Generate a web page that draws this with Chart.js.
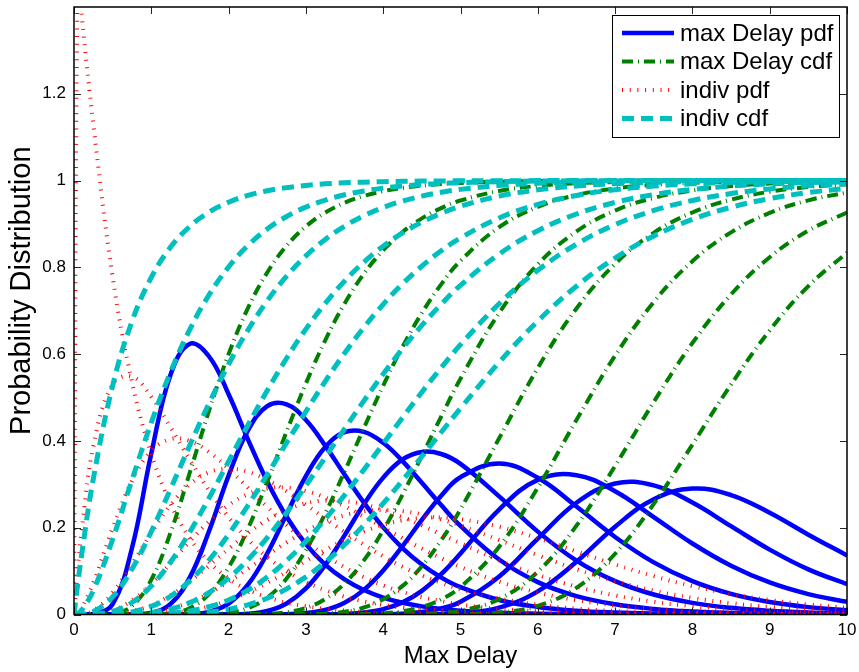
<!DOCTYPE html>
<html>
<head>
<meta charset="utf-8">
<script src="https://cdn.jsdelivr.net/npm/chart.js@4.4.1/dist/chart.umd.min.js"></script>
<style>
html,body{margin:0;padding:0;background:#ffffff;}
#wrap{width:859px;height:672px;position:relative;}
</style>
</head>
<body>
<div id="wrap"><canvas id="c" width="859" height="672"></canvas></div>
<script>
// ---------- data ----------
const xGrid = [0,0.05,0.1,0.25,0.5,0.75,1,1.25,1.5,1.75,2,2.25,2.5,2.75,3,3.25,3.5,3.75,4,4.25,4.5,4.75,5,5.5,6,6.5,7,7.5,8,8.5,9,9.5,10];

const xTicks = [0,1,2,3,4,5,6,7,8,9,10];
const yTicks = [0,0.2,0.4,0.6,0.8,1,1.2];
const xTitle = 'Max Delay';
const yTitle = 'Probability Distribution';
const legendLabels = ['max Delay pdf','max Delay cdf','indiv pdf','indiv cdf'];

// max Delay pdf (blue)
const maxPdf1 = [0,0,0,0,0.0241,0.1532,0.371,0.553,0.624,0.594,0.5075,0.4037,0.3064,0.2253,0.1622,0.1150,0.0808,0.0563,0.0391,0.0271,0.0187,0.0129,0.0089,0.0042,0.0020,0.0009,0.0004,0.0002,0.0001,0,0,0,0];
const maxPdf2 = [0,0,0,0,0,0.0002,0.0034,0.0243,0.0861,0.1937,0.3201,0.4242,0.4802,0.4842,0.4482,0.3891,0.3224,0.2577,0.2008,0.1532,0.1151,0.0854,0.0629,0.0333,0.0174,0.0089,0.0046,0.0023,0.0012,0.0006,0.0003,0.0001,0.0001];
const maxPdf3 = [0,0,0,0,0,0,0,0.0001,0.0009,0.0062,0.0250,0.0686,0.1407,0.2310,0.3191,0.3858,0.4202,0.4210,0.3957,0.3536,0.3034,0.2521,0.2042,0.1267,0.0746,0.0424,0.0236,0.0129,0.0069,0.0037,0.0020,0.0011,0.0005];
const maxPdf4 = [0,0,0,0,0,0,0,0,0,0,0.0003,0.0019,0.0083,0.0255,0.0600,0.1140,0.1824,0.2540,0.3154,0.3573,0.3746,0.3699,0.3471,0.2721,0.1910,0.1243,0.0769,0.0460,0.0268,0.0153,0.0086,0.0048,0.0027];
const maxPdf5 = [0,0,0,0,0,0,0,0,0,0,0,0,0.0001,0.0007,0.0032,0.0104,0.0269,0.0567,0.1014,0.1577,0.2180,0.2737,0.3164,0.3477,0.3150,0.2488,0.1787,0.1201,0.0770,0.0477,0.0288,0.0170,0.0099];
const maxPdf6 = [0,0,0,0,0,0,0,0,0,0,0,0,0,0,0,0.0003,0.0013,0.0044,0.0123,0.0280,0.0546,0.0928,0.1406,0.2418,0.3102,0.3211,0.2842,0.2246,0.1636,0.1124,0.0738,0.0469,0.0292];
const maxPdf7 = [0,0,0,0,0,0,0,0,0,0,0,0,0,0,0,0,0,0.0001,0.0006,0.0020,0.0058,0.0141,0.0294,0.0876,0.1749,0.2576,0.3020,0.2976,0.2581,0.2035,0.1495,0.1039,0.0698];
const maxPdf8 = [0,0,0,0,0,0,0,0,0,0,0,0,0,0,0,0,0,0,0,0.0001,0.0003,0.0009,0.0028,0.0158,0.0534,0.1214,0.2024,0.2657,0.2903,0.2753,0.2345,0.1840,0.1361];

// max Delay cdf (green)
const maxCdf1 = [0,0,0,0,0.0017,0.0197,0.0801,0.1893,0.3283,0.4714,0.6001,0.7059,0.7882,0.8497,0.8943,0.9262,0.9488,0.9645,0.9755,0.9831,0.9884,0.9920,0.9945,0.9974,0.9988,0.9994,0.9997,0.9999,0.9999,1,1,1,1];
const maxCdf2 = [0,0,0,0,0,0,0.0003,0.0030,0.0151,0.0475,0.1086,0.1976,0.3059,0.4213,0.5323,0.6319,0.7164,0.7851,0.8395,0.8813,0.9129,0.9365,0.9540,0.9761,0.9877,0.9938,0.9968,0.9984,0.9992,0.9996,0.9998,0.9999,1];
const maxCdf3 = [0,0,0,0,0,0,0,0,0.0001,0.0008,0.0041,0.0146,0.0390,0.0830,0.1486,0.2329,0.3294,0.4297,0.5274,0.6168,0.6948,0.7608,0.8149,0.8925,0.9394,0.9666,0.9818,0.9902,0.9948,0.9972,0.9986,0.9992,0.9996];
const maxCdf4 = [0,0,0,0,0,0,0,0,0,0,0,0.0002,0.0013,0.0052,0.0151,0.0359,0.0717,0.1248,0.1941,0.2763,0.3654,0.4562,0.5435,0.6948,0.8069,0.8827,0.9308,0.9600,0.9773,0.9873,0.9930,0.9961,0.9979];
const maxCdf5 = [0,0,0,0,0,0,0,0,0,0,0,0,0,0.0001,0.0005,0.0020,0.0063,0.0161,0.0349,0.0660,0.1113,0.1710,0.2425,0.4060,0.5682,0.7051,0.8080,0.8796,0.9265,0.9561,0.9743,0.9851,0.9915];
const maxCdf6 = [0,0,0,0,0,0,0,0,0,0,0,0,0,0,0,0,0.0002,0.0008,0.0027,0.0074,0.0172,0.0349,0.0631,0.1563,0.2924,0.4481,0.5964,0.7202,0.8142,0.8807,0.9254,0.9544,0.9724];
const maxCdf7 = [0,0,0,0,0,0,0,0,0,0,0,0,0,0,0,0,0,0,0.0001,0.0004,0.0012,0.0035,0.0086,0.0355,0.0986,0.2047,0.3425,0.4897,0.6256,0.7378,0.8233,0.8847,0.9263];
const maxCdf8 = [0,0,0,0,0,0,0,0,0,0,0,0,0,0,0,0,0,0,0,0,0,0.0002,0.0006,0.0044,0.0200,0.0614,0.1400,0.2549,0.3915,0.5300,0.6547,0.7569,0.8339];

// indiv pdf (red)
const indivPdf1 = [0,1.5,1.38,1.13,0.778,0.536,0.370,0.255,0.175,0.121,0.083,0.057,0.040,0.027,0.019,0.013,0.009,0.006,0.004,0.003,0.002,0.0014,0.0009,0.0004,0.0002,0.0001,0,0,0,0,0,0,0];
const indivPdf2 = [0,0.104,0.194,0.387,0.531,0.548,0.502,0.431,0.356,0.285,0.224,0.173,0.132,0.100,0.075,0.056,0.041,0.030,0.022,0.016,0.012,0.009,0.006,0.003,0.002,0.001,0.0004,0.0002,0.0001,0,0,0,0];
const indivPdf3 = [0,0.004,0.015,0.073,0.199,0.308,0.377,0.404,0.400,0.374,0.336,0.292,0.248,0.206,0.169,0.136,0.109,0.086,0.067,0.052,0.040,0.031,0.023,0.013,0.0075,0.0042,0.0023,0.0012,0.0007,0.0004,0.0002,0.0001,0.0001];
const indivPdf4 = [0,0.0001,0.0007,0.009,0.050,0.116,0.188,0.253,0.300,0.328,0.336,0.329,0.310,0.284,0.253,0.221,0.190,0.161,0.134,0.110,0.090,0.073,0.058,0.037,0.0225,0.0135,0.008,0.0046,0.0027,0.0015,0.0008,0.0005,0.0003];
const indivPdf5 = [0,0,0,0.0009,0.0093,0.0325,0.0706,0.1185,0.1688,0.2150,0.2520,0.2775,0.2907,0.2924,0.2847,0.2695,0.2492,0.2257,0.2008,0.1759,0.1519,0.1296,0.1094,0.0756,0.0506,0.0329,0.0209,0.0130,0.0080,0.0048,0.0028,0.0017,0.0010];
const indivPdf6 = [0,0,0,0.0001,0.0014,0.0073,0.0212,0.0444,0.0760,0.1129,0.1512,0.1873,0.2180,0.2413,0.2562,0.2628,0.2616,0.2539,0.2409,0.2243,0.2051,0.1847,0.1641,0.1248,0.0911,0.0642,0.0439,0.0293,0.0191,0.0122,0.0077,0.0047,0.0029];
const indivPdf7 = [0,0,0,0,0.0002,0.0014,0.0053,0.0139,0.0285,0.0494,0.0756,0.1054,0.1363,0.1659,0.1922,0.2135,0.2289,0.2380,0.2409,0.2383,0.2307,0.2194,0.2051,0.1716,0.1366,0.1043,0.0769,0.0549,0.0382,0.0260,0.0173,0.0113,0.0073];
const indivPdf8 = [0,0,0,0,0,0.0002,0.0011,0.0037,0.0092,0.0185,0.0324,0.0508,0.0730,0.0977,0.1235,0.1487,0.1717,0.1913,0.2065,0.2170,0.2225,0.2233,0.2197,0.2023,0.1757,0.1453,0.1153,0.0883,0.0655,0.0473,0.0333,0.0229,0.0156];

// indiv cdf (cyan)
const indivCdf1 = [0,0.0723,0.1393,0.3127,0.5276,0.6754,0.7769,0.8467,0.8946,0.9276,0.9502,0.9658,0.9765,0.9838,0.9889,0.9924,0.9948,0.9964,0.9975,0.9983,0.9988,0.9992,0.9994,0.9997,0.9999,1,1,1,1,1,1,1,1];
const indivCdf2 = [0,0.0027,0.0102,0.0550,0.1733,0.3101,0.4422,0.5591,0.6575,0.7374,0.8009,0.8503,0.8883,0.9172,0.9389,0.9551,0.9672,0.9761,0.9826,0.9874,0.9909,0.9935,0.9953,0.9976,0.9988,0.9994,0.9997,0.9998,0.9999,1,1,1,1];
const indivCdf3 = [0,0.0001,0.0005,0.0067,0.0405,0.1047,0.1912,0.2896,0.3907,0.4878,0.5768,0.6554,0.7229,0.7797,0.8264,0.8644,0.8949,0.9190,0.9380,0.9528,0.9642,0.9730,0.9797,0.9887,0.9938,0.9966,0.9982,0.9990,0.9995,0.9997,0.9999,0.9999,1];
const indivCdf4 = [0,0,0,0.0006,0.0073,0.0276,0.0656,0.1211,0.1906,0.2694,0.3528,0.4362,0.5162,0.5906,0.6577,0.7170,0.7683,0.8121,0.8488,0.8793,0.9042,0.9245,0.9409,0.9642,0.9788,0.9876,0.9929,0.9959,0.9977,0.9987,0.9993,0.9996,0.9998];
const indivCdf5 = [0,0,0,0,0.0011,0.0060,0.0186,0.0421,0.0780,0.1261,0.1847,0.2512,0.3224,0.3957,0.4679,0.5373,0.6022,0.6616,0.7149,0.7620,0.8029,0.8381,0.8679,0.9138,0.9450,0.9657,0.9789,0.9872,0.9924,0.9955,0.9974,0.9985,0.9991];
const indivCdf6 = [0,0,0,0,0.0001,0.0011,0.0045,0.0125,0.0274,0.0509,0.0839,0.1263,0.1770,0.2348,0.2971,0.3621,0.4278,0.4923,0.5543,0.6125,0.6662,0.7149,0.7586,0.8306,0.8843,0.9229,0.9496,0.9677,0.9797,0.9874,0.9923,0.9953,0.9972];
const indivCdf7 = [0,0,0,0,0,0.0002,0.0009,0.0032,0.0084,0.0180,0.0335,0.0561,0.0862,0.1243,0.1689,0.2198,0.2752,0.3337,0.3937,0.4537,0.5124,0.5687,0.6218,0.7162,0.7932,0.8533,0.8984,0.9311,0.9542,0.9700,0.9807,0.9878,0.9924];
const indivCdf8 = [0,0,0,0,0,0,0.0002,0.0008,0.0023,0.0056,0.0119,0.0222,0.0375,0.0591,0.0866,0.1206,0.1607,0.2062,0.2560,0.3090,0.3640,0.4199,0.4753,0.5813,0.6761,0.7565,0.8215,0.8722,0.9105,0.9385,0.9585,0.9725,0.9820];

const maxPdfSeries = [maxPdf1,maxPdf2,maxPdf3,maxPdf4,maxPdf5,maxPdf6,maxPdf7,maxPdf8];
const maxCdfSeries = [maxCdf1,maxCdf2,maxCdf3,maxCdf4,maxCdf5,maxCdf6,maxCdf7,maxCdf8];
const indivPdfSeries = [indivPdf1,indivPdf2,indivPdf3,indivPdf4,indivPdf5,indivPdf6,indivPdf7,indivPdf8];
const indivCdfSeries = [indivCdf1,indivCdf2,indivCdf3,indivCdf4,indivCdf5,indivCdf6,indivCdf7,indivCdf8];

// ---------- styles ----------
const FONT = "'Liberation Sans', Arial, Helvetica, sans-serif";
const styles = [
  {color:'#0000FF', width:4.5, dash:[],            order:3},
  {color:'#008000', width:4,   dash:[11,5,1,5],    order:2},
  {color:'#FF0000', width:4,   dash:[1,6.7],       order:1},
  {color:'#00BFBF', width:5,   dash:[12,7],        order:0}
];
const families = [maxPdfSeries, maxCdfSeries, indivPdfSeries, indivCdfSeries];

const datasets = [];
families.forEach((fam, fi) => {
  const st = styles[fi];
  fam.forEach((vals, k) => {
    datasets.push({
      label: legendLabels[fi] + ' ' + (k+1),
      data: xGrid.map((x, i) => ({x: x, y: vals[i]})),
      borderColor: st.color,
      backgroundColor: st.color,
      borderWidth: st.width,
      borderDash: st.dash,
      borderCapStyle: 'butt',
      borderJoinStyle: 'round',
      pointRadius: 0,
      fill: false,
      tension: 0.4,
      clip: 0,
      order: st.order
    });
  });
});

// ---------- plugins ----------
const framePlugin = {
  id: 'frame',
  afterDatasetsDraw(chart) {
    const {ctx, chartArea: a, scales: {x, y}} = chart;
    ctx.save();
    ctx.setLineDash([]);
    ctx.strokeStyle = '#262626';
    ctx.lineWidth = 1;
    const tl = 7;
    ctx.beginPath();
    xTicks.forEach(v => {
      const px = Math.round(x.getPixelForValue(v)) + 0.5;
      ctx.moveTo(px, a.bottom); ctx.lineTo(px, a.bottom - tl);
      ctx.moveTo(px, a.top); ctx.lineTo(px, a.top + tl);
    });
    yTicks.forEach(v => {
      const py = Math.round(y.getPixelForValue(v)) + 0.5;
      ctx.moveTo(a.left, py); ctx.lineTo(a.left + tl, py);
      ctx.moveTo(a.right, py); ctx.lineTo(a.right - tl, py);
    });
    ctx.stroke();
    ctx.strokeStyle = '#000';
    ctx.lineWidth = 1.5;
    ctx.strokeRect(a.left, a.top, a.right - a.left, a.bottom - a.top);
    ctx.restore();
  }
};

const textPlugin = {
  id: 'yTitleAndLegend',
  afterDraw(chart) {
    const {ctx, chartArea: a} = chart;
    // y axis title (drawn as text, centred where the reference puts it)
    ctx.save();
    ctx.translate(22, a.top + (a.bottom - a.top) * 0.467);
    ctx.rotate(-Math.PI / 2);
    ctx.fillStyle = '#000';
    ctx.font = '29px ' + FONT;
    ctx.textAlign = 'center';
    ctx.textBaseline = 'middle';
    ctx.fillText(yTitle, 0, 0);
    ctx.restore();

    // legend box
    const w = 227, h = 122;
    const bx = a.right - 8 - w, by = a.top + 8;
    ctx.save();
    ctx.fillStyle = '#fff';
    ctx.fillRect(bx, by, w, h);
    ctx.setLineDash([]);
    ctx.strokeStyle = '#000';
    ctx.lineWidth = 1;
    ctx.strokeRect(bx + 0.5, by + 0.5, w, h);
    const rows = [18, 46.5, 75, 103.5];
    legendLabels.forEach((lab, i) => {
      const st = styles[i];
      const yy = by + rows[i];
      ctx.save();
      ctx.strokeStyle = st.color;
      ctx.lineWidth = st.width;
      ctx.lineCap = 'butt';
      ctx.setLineDash(st.dash);
      ctx.beginPath();
      ctx.moveTo(bx + 10, yy);
      ctx.lineTo(bx + 62, yy);
      ctx.stroke();
      ctx.restore();
      ctx.fillStyle = '#000';
      ctx.font = '24px ' + FONT;
      ctx.textBaseline = 'middle';
      ctx.textAlign = 'left';
      ctx.fillText(lab, bx + 68, yy + 1);
    });
    ctx.restore();
  }
};

// ---------- chart ----------
Chart.defaults.font.family = FONT;
Chart.defaults.color = '#000';

new Chart(document.getElementById('c'), {
  type: 'line',
  data: { datasets: datasets },
  options: {
    responsive: false,
    devicePixelRatio: 1,
    animation: false,
    events: [],
    layout: { padding: { left: 0, right: 12, top: 7, bottom: 0 } },
    plugins: { legend: { display: false }, tooltip: { enabled: false } },
    scales: {
      x: {
        type: 'linear', min: 0, max: 10,
        afterBuildTicks: s => { s.ticks = xTicks.map(v => ({value: v})); },
        afterFit: s => { s.height = 57.5; s.paddingLeft = 0; s.paddingRight = 0; },
        grid: { display: false, drawTicks: false },
        border: { display: false },
        ticks: { font: { size: 17 }, color: '#000', padding: 6, maxRotation: 0, autoSkip: false, callback: v => String(v) },
        title: { display: true, text: xTitle, font: { size: 24 }, color: '#000', padding: { top: 0, bottom: 1 } }
      },
      y: {
        type: 'linear', min: 0, max: 1.4,
        afterBuildTicks: s => { s.ticks = yTicks.map(v => ({value: v})); },
        afterFit: s => { s.width = 74; s.paddingTop = 0; s.paddingBottom = 0; },
        grid: { display: false, drawTicks: false },
        border: { display: false },
        ticks: { font: { size: 17 }, color: '#000', padding: 8, autoSkip: false, callback: v => String(v) },
        title: { display: false, text: yTitle }
      }
    }
  },
  plugins: [framePlugin, textPlugin]
});
</script>
</body>
</html>
